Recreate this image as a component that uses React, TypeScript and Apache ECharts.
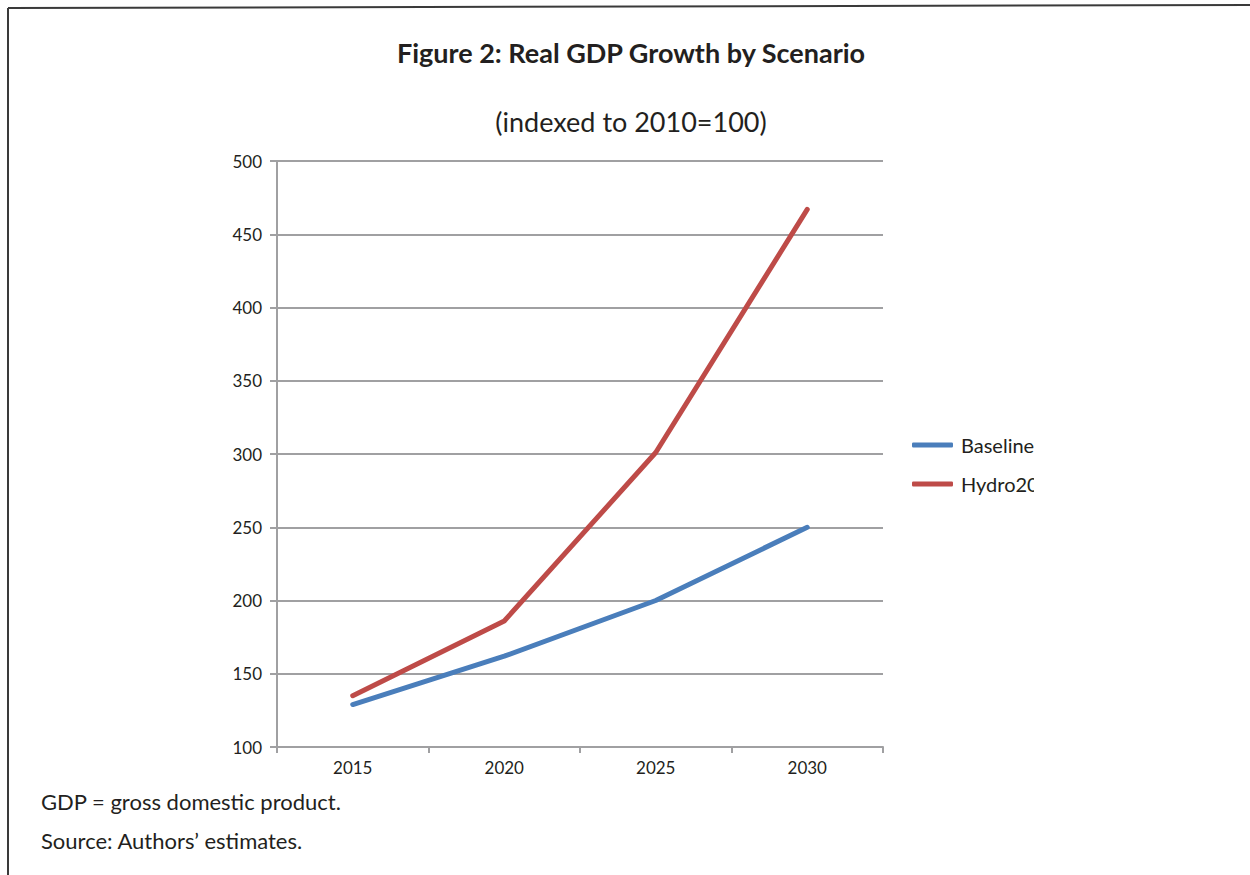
import React, { useEffect, useRef } from "react";
import * as echarts from "echarts";

const years = ["2015", "2020", "2025", "2030"];
const baseline = [129, 162, 200, 250];
const hydro20 = [135, 186, 301, 467];
const seriesNames = ["Baseline", "Hydro20"];
const titleText = "Figure 2: Real GDP Growth by Scenario";
const subtitleText = "(indexed to 2010=100)";
const notes = ["GDP = gross domestic product.", "Source: Authors\u2019 estimates."];

const FONT = "Lato, 'Open Sans', sans-serif";

export default function App() {
  const ref = useRef<HTMLDivElement>(null);
  useEffect(() => {
    if (!ref.current) return;
    const chart = echarts.init(ref.current, undefined, { renderer: "svg" });
    chart.setOption({
      animation: false,
      backgroundColor: "#ffffff",
      textStyle: { fontFamily: FONT },
      grid: { left: 277, right: 367, top: 161, bottom: 128 },
      legend: {
        orient: "vertical",
        left: 907,
        top: 430,
        icon: "roundRect",
        itemWidth: 41,
        itemHeight: 5,
        itemGap: 19,
        textStyle: { fontFamily: FONT, fontSize: 20, color: "#231f20", padding: [0, 0, 0, 3] },
        data: seriesNames,
      },
      xAxis: {
        type: "category",
        data: years,
        boundaryGap: true,
        axisLine: { lineStyle: { color: "#a0a0a2", width: 2 } },
        axisTick: { show: true, length: 6, lineStyle: { color: "#a0a0a2", width: 2 } },
        axisLabel: { fontFamily: FONT, fontSize: 17, color: "#231f20", margin: 12 },
      },
      yAxis: {
        type: "value",
        min: 100,
        max: 500,
        interval: 50,
        axisLine: { show: true, lineStyle: { color: "#a0a0a2", width: 2 } },
        axisTick: { show: true, length: 7, lineStyle: { color: "#a0a0a2", width: 2 } },
        axisLabel: { fontFamily: FONT, fontSize: 17, color: "#231f20", margin: 15 },
        splitLine: { show: true, lineStyle: { color: "#a0a0a2", width: 2 } },
      },
      series: [
        {
          name: seriesNames[0],
          type: "line",
          data: baseline,
          showSymbol: false,
          symbol: "none",
          lineStyle: { color: "#4a7ebb", width: 5, cap: "round" },
          itemStyle: { color: "#4a7ebb" },
        },
        {
          name: seriesNames[1],
          type: "line",
          data: hydro20,
          showSymbol: false,
          symbol: "none",
          lineStyle: { color: "#be4b48", width: 5, cap: "round" },
          itemStyle: { color: "#be4b48" },
        },
      ],
      graphic: [
        { type: "line", shape: { x1: 8, y1: 8, x2: 1250, y2: 5 }, style: { stroke: "#3a3a3a", lineWidth: 2 } },
        { type: "line", shape: { x1: 8, y1: 8, x2: 8, y2: 875 }, style: { stroke: "#3a3a3a", lineWidth: 2 } },
        {
          type: "text",
          x: 631,
          y: 39,
          style: { text: titleText, font: `bold 27px ${FONT}`, fill: "#231f20", align: "center", verticalAlign: "top" },
        },
        {
          type: "text",
          x: 631,
          y: 108,
          style: { text: subtitleText, font: `27px ${FONT}`, fill: "#231f20", align: "center", verticalAlign: "top" },
        },
        {
          type: "text",
          left: 41,
          top: 790,
          style: { text: notes[0], font: `22px ${FONT}`, fill: "#231f20" },
        },
        {
          type: "text",
          left: 41,
          top: 829,
          style: { text: notes[1], font: `22px ${FONT}`, fill: "#231f20" },
        },
        {
          type: "rect",
          z: 100,
          shape: { x: 1034, y: 468, width: 40, height: 36 },
          style: { fill: "#ffffff" },
        },
      ],
    });
    return () => chart.dispose();
  }, []);
  return (
    <div
      ref={ref}
      style={{ position: "absolute", left: 0, top: 0, width: 1250, height: 875 }}
    />
  );
}
